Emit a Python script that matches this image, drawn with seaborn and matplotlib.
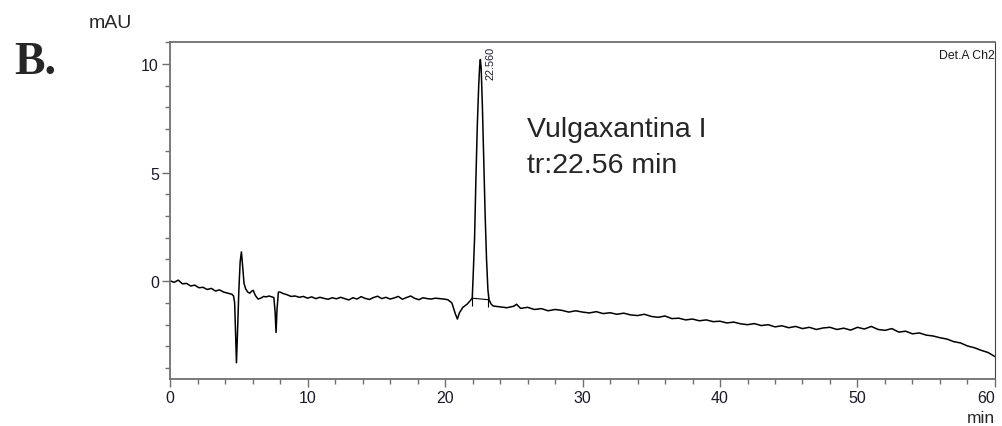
import numpy as np
import pandas as pd
import matplotlib.pyplot as plt
import seaborn as sns
from matplotlib.ticker import MultipleLocator

sns.set_theme(style="ticks")
plt.rcParams['font.family'] = ['Liberation Sans', 'DejaVu Sans']

# Chromatogram trace (time in min, signal in mAU)
time_min = [
    0.0, 0.3, 0.6, 0.9, 1.2, 1.5, 1.8, 2.1, 2.4, 2.7, 3.0, 3.3, 3.6, 3.9, 4.2, 4.5,
    4.62, 4.70, 4.76, 4.83, 4.90, 5.00, 5.10, 5.19, 5.28, 5.38, 5.5, 5.65, 5.8, 5.95,
    6.05, 6.2, 6.4, 6.6, 6.8, 7.0, 7.2, 7.4, 7.55, 7.64, 7.71, 7.78, 7.88, 8.0, 8.2,
    8.5, 8.8, 9.1, 9.4,
    9.7, 10.0, 10.3, 10.6, 10.9, 11.2, 11.5, 11.8, 12.1, 12.4, 12.7, 13.0, 13.3, 13.6,
    13.9, 14.2, 14.5, 14.8, 15.1, 15.4, 15.7, 16.0, 16.3, 16.6, 16.9, 17.2, 17.5, 17.8,
    18.1, 18.4, 18.7, 19.0, 19.3, 19.6, 19.9,
    20.2, 20.5, 20.75, 20.9, 21.05, 21.3, 21.6, 21.8, 21.98, 22.05, 22.15, 22.25, 22.35,
    22.45, 22.52, 22.57, 22.63, 22.72, 22.82, 22.92, 23.02, 23.12, 23.2, 23.35, 23.5,
    24.0, 24.5, 25.0, 25.2, 25.5, 26.0, 26.5, 27.0, 27.5, 28.0, 28.5, 29.0, 29.5, 30.0,
    30.5, 31.0, 31.5, 32.0, 32.5, 33.0, 33.5, 34.0, 34.5, 35.0, 35.5, 36.0, 36.5, 37.0,
    37.5, 38.0, 38.5, 39.0, 39.5, 40.0, 40.5, 41.0, 41.5, 42.0, 42.5, 43.0, 43.5, 44.0,
    44.5, 45.0, 45.5, 46.0, 46.5, 47.0, 47.5, 48.0, 48.5, 49.0, 49.5, 50.0, 50.5, 51.0,
    51.5, 52.0, 52.5, 53.0, 53.5, 54.0, 54.5, 55.0, 55.5, 56.0, 56.5, 57.0, 57.5, 58.0,
    58.5, 59.0, 59.5, 60.0,
]
signal_mau = [
    0.02, -0.05, 0.05, -0.12, -0.10, -0.22, -0.18, -0.30, -0.28, -0.38, -0.33, -0.45,
    -0.40, -0.50, -0.55, -0.60,
    -0.68, -1.0, -2.2, -3.75, -2.5, -0.5, 0.9, 1.35, 0.7, -0.1, -0.35, -0.5, -0.55, -0.45,
    -0.42, -0.65, -0.82, -0.78, -0.70, -0.72, -0.68, -0.72, -0.75, -1.4, -2.36, -1.3, -0.5,
    -0.5, -0.56, -0.62, -0.70, -0.68, -0.74,
    -0.70, -0.78, -0.72, -0.80, -0.74, -0.79, -0.83, -0.76, -0.81, -0.74, -0.80, -0.86,
    -0.76, -0.82, -0.71, -0.79, -0.84, -0.75, -0.69, -0.80, -0.74, -0.82, -0.77, -0.70,
    -0.83, -0.75, -0.68, -0.79, -0.85, -0.76, -0.80, -0.82, -0.78, -0.80, -0.82,
    -0.85, -1.0, -1.5, -1.74, -1.45, -1.2, -1.06, -0.92, -0.78, 0.3, 2.0, 4.8, 7.2,
    9.0, 9.9, 10.2, 9.8, 8.0, 5.5, 3.0, 1.0, -0.4, -0.85, -1.05, -1.14,
    -1.18, -1.22, -1.15, -1.06, -1.25, -1.20, -1.30, -1.26, -1.36, -1.30, -1.34, -1.42,
    -1.36, -1.42, -1.46, -1.40, -1.49, -1.45, -1.52, -1.47, -1.55, -1.58, -1.52, -1.62,
    -1.66, -1.60, -1.72, -1.70, -1.78, -1.74, -1.82, -1.78, -1.86, -1.84, -1.92, -1.88,
    -1.96, -2.00, -1.95, -2.04, -2.00, -2.10, -2.05, -2.14, -2.08, -2.18, -2.12, -2.22,
    -2.15, -2.12, -2.22, -2.16, -2.25, -2.12, -2.20, -2.08, -2.22, -2.26, -2.18, -2.34,
    -2.30, -2.42, -2.38, -2.48, -2.52, -2.60, -2.66, -2.78, -2.84, -2.98, -3.06, -3.18,
    -3.28, -3.47,
]

# Integration baseline under the peak
peak_base_t = [21.98, 23.15]
peak_base_v = [-0.78, -0.85]
peak_rt = 22.56
peak_height = 10.2

df = pd.DataFrame({"time": time_min, "mAU": signal_mau})

fig = plt.figure(figsize=(10.02, 4.27), dpi=100)
ax = fig.add_axes([0.1697, 0.110, 0.8233, 0.789])

sns.lineplot(data=df, x="time", y="mAU", ax=ax, color="black", lw=1.1,
             estimator=None, sort=False)
ax.plot(peak_base_t, peak_base_v, color="black", lw=0.8)
ax.vlines(peak_base_t, [v - 0.35 for v in peak_base_v], [v + 0.25 for v in peak_base_v],
          color="black", lw=0.8)

ax.set_xlim(0, 60)
ax.set_ylim(-4.5, 11)
ax.xaxis.set_major_locator(MultipleLocator(10))
ax.xaxis.set_minor_locator(MultipleLocator(2))
ax.yaxis.set_major_locator(MultipleLocator(5))
ax.yaxis.set_minor_locator(MultipleLocator(1))
ax.set_xlabel("")
ax.set_ylabel("")

for side in ["left", "top", "bottom"]:
    ax.spines[side].set_color("#707070")
    ax.spines[side].set_linewidth(1.3)
ax.spines["right"].set_color("#404040")
ax.spines["right"].set_linewidth(0.8)

ax.tick_params(which="major", length=6, width=1, color="#707070",
               labelsize=11.5, labelcolor="#1a1a2a", pad=2)
ax.tick_params(which="minor", length=3.5, width=1, color="#707070")

# last x label sits flush with the right edge, as in the instrument printout
fig.canvas.draw()
for lab in ax.get_xticklabels():
    if lab.get_text() == "60":
        lab.set_horizontalalignment("right")
        lab.set_x(60.15)

ax.annotate(f"{peak_rt:.3f}", xy=(peak_rt, peak_height), xytext=(3.5, 9.5),
            textcoords="offset points", rotation=90, ha="left", va="top",
            fontsize=7.8, color="#1a1a2a")

ax.text(1.0, 0.961, "Det.A Ch2", transform=ax.transAxes, ha="right", va="center",
        fontsize=8.8, color="#1a1a1a")

fig.text(0.526, 0.679, "Vulgaxantina I", fontsize=20.5, va="baseline", ha="left")
fig.text(0.526, 0.595, f"tr:{peak_rt:.2f} min", fontsize=20.5, va="baseline", ha="left")

fig.text(0.1098, 0.946, "mAU", fontsize=14, ha="center", va="center")
fig.text(0.993, 0.021, "min", fontsize=12.5, ha="right", va="center")
fig.text(0.014, 0.826, "B.", fontsize=33, fontweight="bold", va="baseline", ha="left",
         family=["Liberation Serif", "DejaVu Serif"])

fig.savefig("out.png", dpi=100)
